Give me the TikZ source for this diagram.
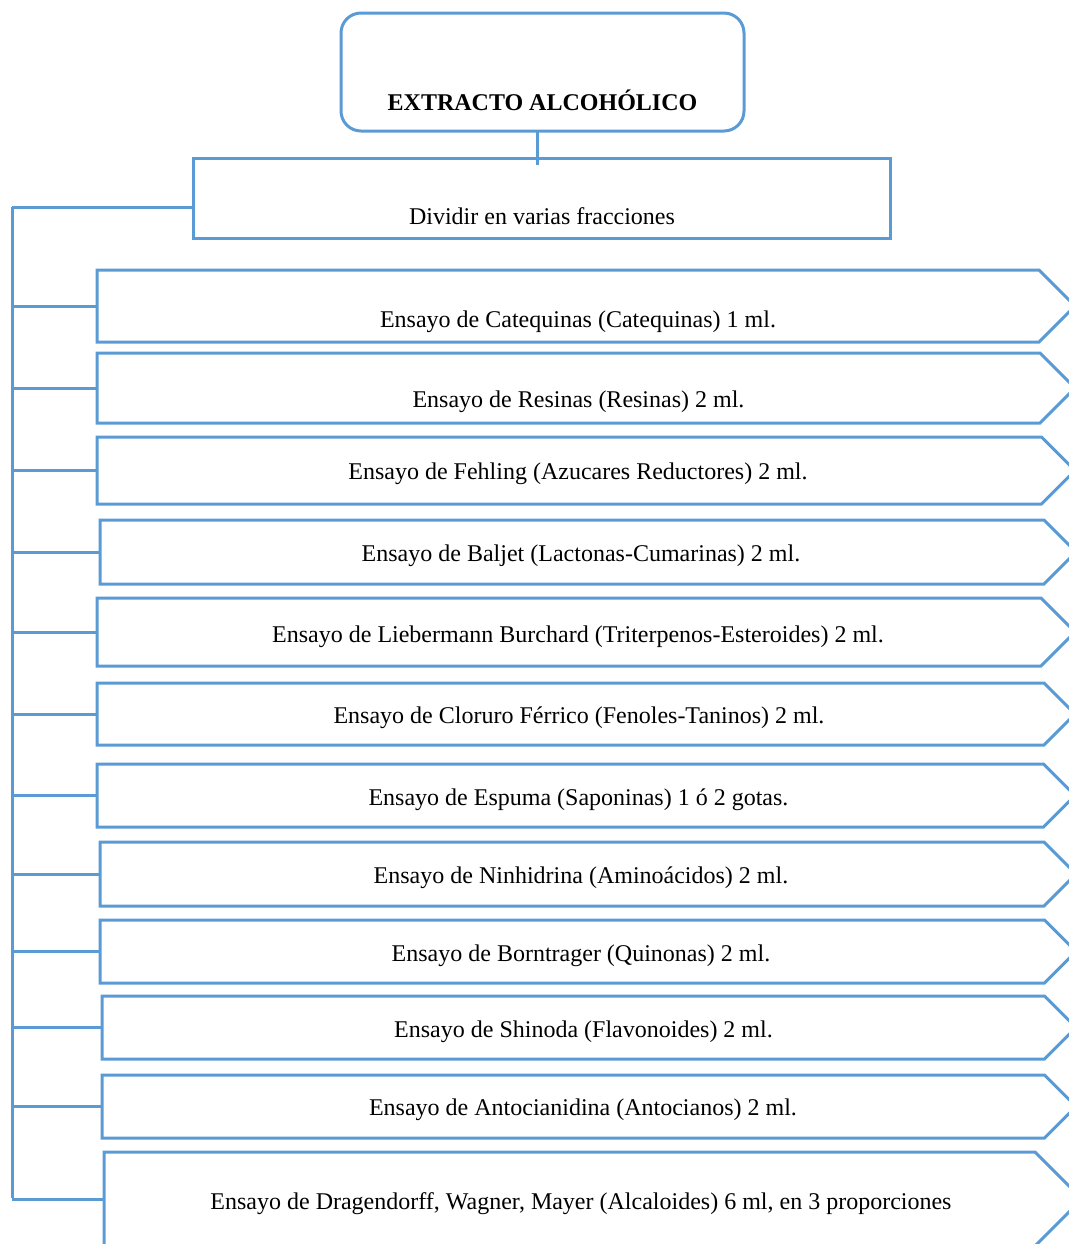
\documentclass[tikz,border=0pt]{standalone}
\usepackage{fontspec}
\setmainfont{Liberation Serif}
\usetikzlibrary{shapes.symbols}
\definecolor{azul}{RGB}{91,155,213}
\tikzset{
  link/.style={draw=azul, line width=1.5pt},
  caja/.style={draw=azul, line width=1.5pt, rectangle, inner sep=0pt, outer sep=0pt},
  ensayo/.style={draw=azul, line width=1.5pt, signal, signal to=east, signal pointer angle=90,
    minimum width=489pt, inner sep=0pt, outer sep=0pt, anchor=west},
  txt/.style={draw=none, align=center, inner sep=0pt, font=\fontsize{12}{14}\selectfont}
}
\begin{document}
\begin{tikzpicture}[x=0.5pt, y=-0.5pt]
    \clip (0,0) rectangle (1069,1244);

    % extracto
    \node [caja, rounded corners=10pt, minimum width=201.5pt, minimum height=59pt, name=top] at (542.5,72) {};
    \node [txt, font=\fontsize{12}{14}\selectfont\bfseries, name=ttop] at (542.5,100) {EXTRACTO ALCOHÓLICO};
    \node [caja, minimum width=348.5pt, minimum height=40pt, name=div] at (541.5,198) {};
    \node [txt, name=tdiv] at (542,216) {Dividir en varias fracciones};
    \coordinate (stem) at (537,165);
    \draw [link] (top.south -| stem) -- (stem);

    % ensayos
    \node [ensayo, minimum height=36pt, name=cat] at (97,306) {};
    \node [txt, name=tcat] at (578,322) {Ensayo de Catequinas (Catequinas) 1 ml.};
    \node [ensayo, minimum height=35pt, name=res] at (97,388) {};
    \node [txt, name=tres] at (578.5,402) {Ensayo de Resinas (Resinas) 2 ml.};
    \node [ensayo, minimum height=33.5pt, name=feh] at (97,470.5) {};
    \node [txt, name=tfeh] at (578,474) {Ensayo de Fehling (Azucares Reductores) 2 ml.};
    \node [ensayo, minimum height=32pt, minimum width=488pt, name=bal] at (100,552) {};
    \node [txt, name=tbal] at (581,556) {Ensayo de Baljet (Lactonas-Cumarinas) 2 ml.};
    \node [ensayo, minimum height=34pt, name=lie] at (97,632) {};
    \node [txt, name=tlie] at (578,637) {Ensayo de Liebermann Burchard (Triterpenos-Esteroides) 2 ml.};
    \node [ensayo, minimum height=31pt, name=clo] at (97,714) {};
    \node [txt, name=tclo] at (579,718) {Ensayo de Cloruro Férrico (Fenoles-Taninos) 2 ml.};
    \node [ensayo, minimum height=31.5pt, name=esp] at (97,795.5) {};
    \node [txt, name=tesp] at (578.5,800) {Ensayo de Espuma (Saponinas) 1 ó 2 gotas.};
    \node [ensayo, minimum height=32pt, minimum width=488pt, name=nin] at (100,874) {};
    \node [txt, name=tnin] at (581,878) {Ensayo de Ninhidrina (Aminoácidos) 2 ml.};
    \node [ensayo, minimum height=31.5pt, minimum width=488pt, name=bor] at (100,951.5) {};
    \node [txt, name=tbor] at (581,956) {Ensayo de Borntrager (Quinonas) 2 ml.};
    \node [ensayo, minimum height=31.5pt, minimum width=487pt, name=shi] at (102,1027.5) {};
    \node [txt, name=tshi] at (583.5,1032) {Ensayo de Shinoda (Flavonoides) 2 ml.};
    \node [ensayo, minimum height=31.5pt, minimum width=487pt, name=ant] at (102,1106.5) {};
    \node [txt, name=tant] at (583,1110) {Ensayo de Antocianidina (Antocianos) 2 ml.};
    \node [ensayo, minimum height=47pt, name=dra] at (104,1199) {};
    \node [txt, name=tdra] at (581,1204) {Ensayo de Dragendorff, Wagner, Mayer (Alcaloides) 6 ml, en 3 proporciones};

    % conectores
    \coordinate (bus1) at (12,207);
    \coordinate (bus2) at (12,1198);
    \draw [link] (bus1) -- (bus2);
    \draw [link] (bus1) -- (bus1 -| div.west);
    \foreach \e in {cat,res,feh,bal,lie,clo,esp,nin,bor,shi,ant,dra}
      \draw [link] (\e.west) -- (\e.west -| bus1);
\end{tikzpicture}
\end{document}
